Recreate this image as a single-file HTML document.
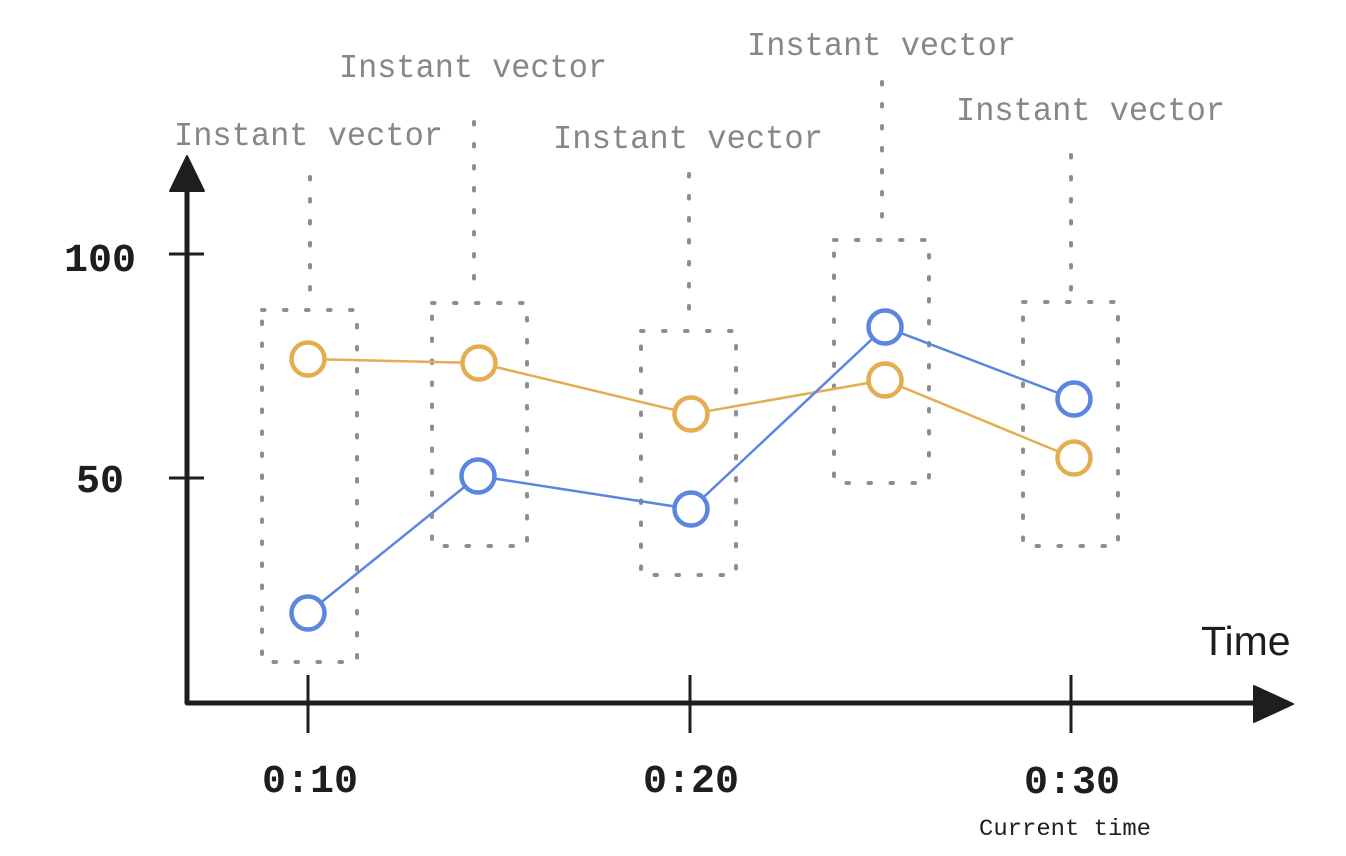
<!DOCTYPE html>
<html>
<head>
<meta charset="utf-8">
<style>
html,body{margin:0;padding:0;background:#fff;}
svg{display:block;}
</style>
</head>
<body>
<svg width="1346" height="856" viewBox="0 0 1346 856" xmlns="http://www.w3.org/2000/svg">
<rect width="1346" height="856" fill="#ffffff"/>

<!-- Instant vector labels -->
<g font-family="Liberation Mono, monospace" font-size="33" fill="#878787">
  <text x="174" y="145" textLength="269" lengthAdjust="spacingAndGlyphs">Instant vector</text>
  <text x="339" y="77" textLength="268" lengthAdjust="spacingAndGlyphs">Instant vector</text>
  <text x="553" y="148" textLength="270" lengthAdjust="spacingAndGlyphs">Instant vector</text>
  <text x="747" y="55" textLength="269" lengthAdjust="spacingAndGlyphs">Instant vector</text>
  <text x="956" y="120" textLength="269" lengthAdjust="spacingAndGlyphs">Instant vector</text>
</g>

<!-- dotted connectors and boxes -->
<g stroke="#8e8e8e" stroke-width="4" fill="none" stroke-dasharray="2.5 19.5" stroke-linecap="round">
  <line x1="310" y1="177" x2="310" y2="296"/>
  <line x1="474" y1="122" x2="474" y2="288"/>
  <line x1="689" y1="174" x2="689" y2="314"/>
  <line x1="882" y1="82" x2="882" y2="226"/>
  <line x1="1071" y1="155" x2="1071" y2="294"/>

  <rect x="262" y="310" width="95" height="352"/>
  <rect x="432" y="303" width="95" height="243"/>
  <rect x="641" y="331" width="95" height="244"/>
  <rect x="834" y="240" width="95" height="243"/>
  <rect x="1023" y="302" width="95" height="244"/>
</g>

<!-- series lines -->
<polyline points="308,359 479,363 691,414 885,380 1074,458" fill="none" stroke="#e3ad50" stroke-width="2.5"/>
<polyline points="308,613 478,476 691,509 885,327 1074,399" fill="none" stroke="#5b86e0" stroke-width="2.5"/>

<!-- circles -->
<g fill="#ffffff" stroke-width="4.5">
  <g stroke="#e3ad50">
    <circle cx="308" cy="359" r="16.5"/>
    <circle cx="479" cy="363" r="16.5"/>
    <circle cx="691" cy="414" r="16.5"/>
    <circle cx="885" cy="380" r="16.5"/>
    <circle cx="1074" cy="458" r="16.5"/>
  </g>
  <g stroke="#5b86e0">
    <circle cx="308" cy="613" r="16.5"/>
    <circle cx="478" cy="476" r="16.5"/>
    <circle cx="691" cy="509" r="16.5"/>
    <circle cx="885" cy="327" r="16.5"/>
    <circle cx="1074" cy="399" r="16.5"/>
  </g>
</g>

<!-- axes -->
<g stroke="#1e1e1e" fill="#1e1e1e">
  <polyline points="187,188 187,703 1258,703" fill="none" stroke-width="5" stroke-linejoin="round"/>
  <polygon points="187,156 170,191 204,191" stroke-width="2" stroke-linejoin="round"/>
  <polygon points="1293,704 1254,686 1254,722" stroke-width="2" stroke-linejoin="round"/>
  <line x1="169" y1="254" x2="204" y2="254" stroke-width="3"/>
  <line x1="169" y1="478" x2="204" y2="478" stroke-width="3"/>
  <line x1="308" y1="675" x2="308" y2="733" stroke-width="3"/>
  <line x1="690" y1="675" x2="690" y2="733" stroke-width="3"/>
  <line x1="1071" y1="675" x2="1071" y2="733" stroke-width="3"/>
</g>

<!-- axis labels -->
<g font-family="Liberation Mono, monospace" font-weight="bold" font-size="40" fill="#1e1e1e" text-anchor="middle">
  <text x="100" y="271">100</text>
  <text x="100" y="492">50</text>
  <text x="310" y="792">0:10</text>
  <text x="691" y="792">0:20</text>
  <text x="1072" y="793">0:30</text>
</g>
<text x="1065" y="835" font-family="Liberation Mono, monospace" font-size="23" fill="#1e1e1e" text-anchor="middle" textLength="172" lengthAdjust="spacingAndGlyphs">Current time</text>
<text x="1201" y="655" font-family="Liberation Sans, sans-serif" font-size="41" fill="#1e1e1e">Time</text>
</svg>
</body>
</html>
